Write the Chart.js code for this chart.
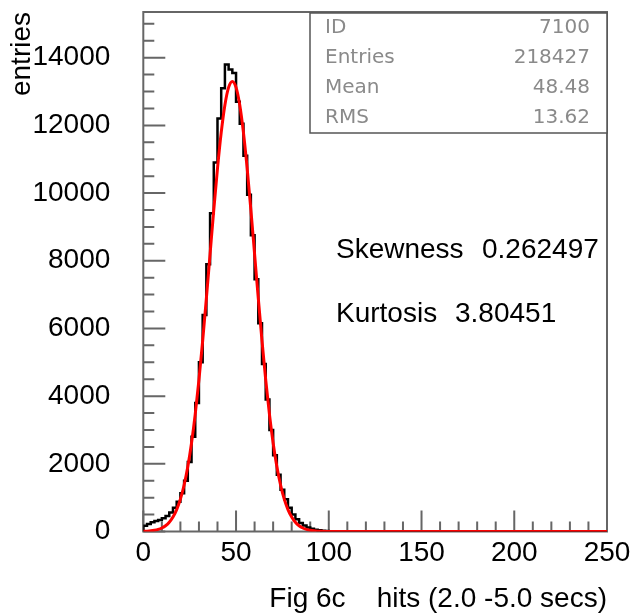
<!DOCTYPE html>
<html>
<head>
<meta charset="utf-8">
<script src="https://cdn.jsdelivr.net/npm/chart.js@4.4.0/dist/chart.umd.min.js"></script>
<style>
html, body { margin: 0; padding: 0; background: #fff; }
#wrap { width: 631px; height: 616px; }
</style>
</head>
<body>
<div id="wrap"><canvas id="histChart" width="631" height="616"></canvas></div>
<script>
// histogram: bins of width 2 starting at 0, counts
const binWidth = 2;
const histCounts = [
    170, 220, 270, 310, 340, 390, 460, 560, 700, 880,
    1130, 1500, 2050, 2800, 3800, 5000, 6400, 7900, 9400, 10900,
    12200, 13100, 13800, 13650, 13550, 12700, 12050, 11100, 9950, 8750,
    7450, 6150, 4950, 3900, 3000, 2250, 1680, 1230, 950, 700,
    500, 360, 250, 175, 120, 80, 55, 35, 22, 14,
    8, 5, 3, 2, 1, 1
];

// red fitted curve
const fitX = [
    0, 2, 4, 6, 8, 10, 12, 14, 16, 18, 20, 22, 24, 26, 28, 30, 32, 34, 36, 38,
    40, 42, 44, 46, 48, 50, 52, 54, 56, 58, 60, 62, 64, 66, 68, 70, 72, 74, 76, 78,
    80, 82, 84, 86, 88, 90, 92, 94, 96, 98, 100, 250
];
const fitY = [
    6, 11, 20, 36, 62, 104, 171, 274, 427, 647, 955, 1374, 1921, 2617, 3470, 4480, 5629, 6885, 8199, 9506,
    10728, 11785, 12604, 13123, 13300, 13123, 12604, 11785, 10728, 9506, 8199, 6885, 5629, 4480, 3470, 2617, 1921, 1374, 955, 647,
    427, 274, 171, 104, 62, 36, 20, 11, 6, 3, 2, 0
];

const xTicks = [0, 50, 100, 150, 200, 250];
const yTicks = [0, 2000, 4000, 6000, 8000, 10000, 12000, 14000];

const statsLabels = ["ID", "Entries", "Mean", "RMS"];
const statsValues = ["7100", "218427", "48.48", "13.62"];
const momentLabels = ["Skewness", "Kurtosis"];
const momentValues = ["0.262497", "3.80451"];

const FONT = '"Liberation Sans", Arial, Helvetica, sans-serif';

/* frame, inward ticks, stats box and text */
const histDecor = {
    id: "histDecor",
    beforeDatasetsDraw(chart) {
        const { ctx, chartArea: a, scales: { x, y } } = chart;
        ctx.save();
        ctx.strokeStyle = "#666";
        ctx.lineWidth = 2;
        ctx.strokeRect(a.left, a.top, a.right - a.left, a.bottom - a.top);
        ctx.beginPath();
        for (let v = 0; v <= y.max; v += 500) {
            const py = y.getPixelForValue(v);
            const len = v % 2000 === 0 ? 22 : 11;
            ctx.moveTo(a.left, py);
            ctx.lineTo(a.left + len, py);
        }
        for (let v = 0; v <= x.max; v += 10) {
            const px = x.getPixelForValue(v);
            const len = v % 50 === 0 ? 21 : 10;
            ctx.moveTo(px, a.bottom);
            ctx.lineTo(px, a.bottom - len);
        }
        ctx.stroke();
        ctx.restore();
    },
    afterDraw(chart) {
        const ctx = chart.ctx;
        ctx.save();

        // stats box
        ctx.fillStyle = "#fff";
        ctx.fillRect(310, 13, 297, 120);
        ctx.strokeStyle = "#555";
        ctx.lineWidth = 1.5;
        ctx.strokeRect(310, 13, 297, 120);
        ctx.font = '20px "DejaVu Sans", sans-serif';
        ctx.fillStyle = "#8a8a8a";
        ctx.textBaseline = "middle";
        statsLabels.forEach(function(lbl, i){
            const yy = 28 + i * 30;
            ctx.textAlign = "left";
            ctx.fillText(lbl, 325, yy);
            ctx.textAlign = "right";
            ctx.fillText(statsValues[i], 590, yy);
        });

        // skewness / kurtosis
        ctx.font = "28px " + FONT;
        ctx.fillStyle = "#000";
        ctx.textBaseline = "alphabetic";
        ctx.textAlign = "left";
        ctx.fillText(momentLabels[0], 336, 258);
        ctx.fillText(momentValues[0], 482, 258);
        ctx.fillText(momentLabels[1], 336, 322);
        ctx.fillText(momentValues[1], 455, 322);

        ctx.restore();
    }
};

const histPoints = [{ x: 0, y: 0 }];
histCounts.forEach(function(c, i){
    histPoints.push({ x: i * binWidth, y: c });
});
histPoints.push({ x: histCounts.length * binWidth, y: 0 });
histPoints.push({ x: 250, y: 0 });

const fitPoints = fitX.map(function(v, i){
    return { x: v, y: fitY[i] };
});

new Chart(document.getElementById("histChart"), {
    type: "line",
    data: {
        datasets: [
            {
                label: "fit",
                data: fitPoints,
                borderColor: "#ff0000",
                borderWidth: 3,
                pointRadius: 0,
                cubicInterpolationMode: "monotone",
                fill: false,
                order: 0
            },
            {
                label: "hits",
                data: histPoints,
                borderColor: "#000",
                borderWidth: 2.5,
                pointRadius: 0,
                stepped: true,
                fill: false,
                order: 1
            }
        ]
    },
    options: {
        responsive: false,
        animation: false,
        events: [],
        layout: { padding: { top: 12, right: 24, left: 0, bottom: 0 } },
        plugins: {
            legend: { display: false },
            tooltip: { enabled: false }
        },
        scales: {
            x: {
                type: "linear",
                min: 0,
                max: 250,
                grid: { display: false, drawTicks: false, tickLength: 0 },
                border: { display: false },
                afterBuildTicks(scale) {
                    scale.ticks = xTicks.map(function(v){ return { value: v }; });
                },
                afterFit(scale) {
                    scale.height = 84.5;
                    scale.paddingLeft = 0;
                    scale.paddingRight = 0;
                },
                ticks: {
                    color: "#000",
                    padding: 5,
                    maxRotation: 0,
                    autoSkip: false,
                    font: { family: FONT, size: 28 },
                    callback: function(v){ return String(v); }
                },
                title: {
                    display: true,
                    text: "Fig 6c    hits (2.0 -5.0 secs)",
                    align: "end",
                    color: "#000",
                    padding: { top: 0, bottom: 0 },
                    font: { family: FONT, size: 28 }
                }
            },
            y: {
                type: "linear",
                min: 0,
                max: 15350,
                grid: { display: false, drawTicks: false, tickLength: 0 },
                border: { display: false },
                afterBuildTicks(scale) {
                    scale.ticks = yTicks.map(function(v){ return { value: v }; });
                },
                afterFit(scale) {
                    scale.width = 143.3;
                    scale.paddingTop = 0;
                    scale.paddingBottom = 0;
                },
                ticks: {
                    color: "#000",
                    padding: 33,
                    autoSkip: false,
                    font: { family: FONT, size: 28 },
                    callback: function(v){ return String(v); }
                },
                title: {
                    display: true,
                    text: "entries",
                    align: "end",
                    color: "#000",
                    padding: { top: 5, bottom: 0 },
                    font: { family: FONT, size: 28 }
                }
            }
        }
    },
    plugins: [histDecor]
});
</script>
</body>
</html>
